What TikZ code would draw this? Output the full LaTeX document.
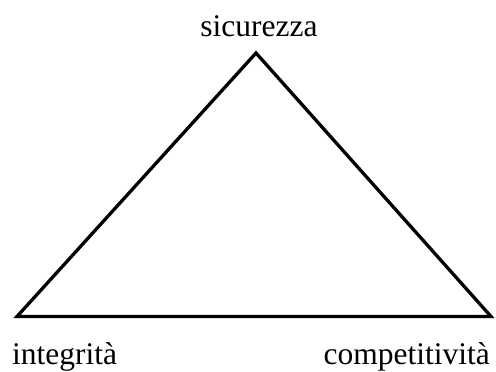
\documentclass[tikz,border=0pt]{standalone}
\usepackage{fontspec}
\setmainfont{Liberation Serif}
\begin{document}
\begin{tikzpicture}[x=1pt,y=-1pt,
  lbl/.style={inner sep=0pt,font=\fontsize{31.5}{36}\selectfont},
  edge/.style={line width=3.3pt,line join=miter}]
\useasboundingbox (0,0) rectangle (496,372);
\coordinate (top) at (256,53);
\coordinate (bl) at (17,316.5);
\coordinate (br) at (491,316.5);
\draw[edge] (top) -- (br) -- (bl) -- cycle;
\node[lbl,anchor=base] (s) at (259,36) {sicurezza};
\node[lbl,anchor=base west] (i) at (12,364.5) {integrità};
\node[lbl,anchor=base east] (c) at (490,364.5) {competitività};
\end{tikzpicture}
\end{document}
